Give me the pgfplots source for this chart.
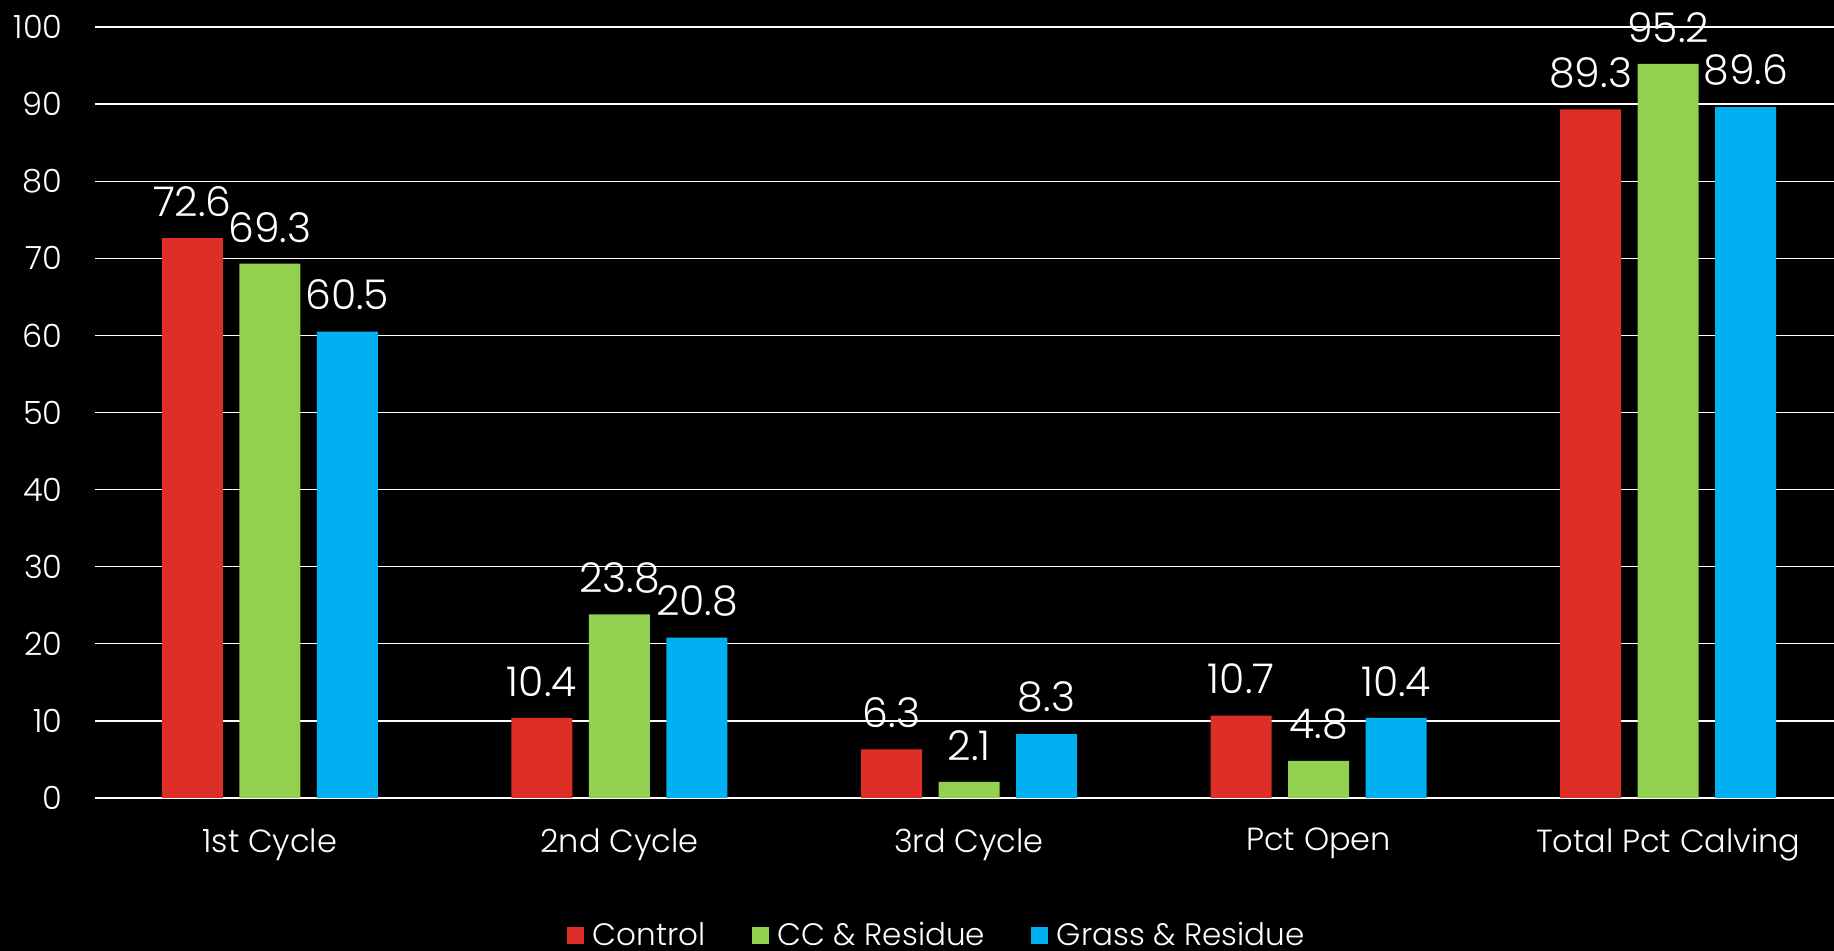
\documentclass[border=0pt]{standalone}
\usepackage{fontspec}
\setmainfont{Poppins}[UprightFont={* Light}]
\usepackage{pgfplots}
\pgfplotsset{compat=1.18}
\definecolor{cred}{HTML}{DE2E28}
\definecolor{cgreen}{HTML}{92D050}
\definecolor{cblue}{HTML}{00B0F0}
\begin{document}
\begin{tikzpicture}
\path[fill=black, use as bounding box] (-47.5pt,-76.5pt) rectangle (869.5pt,399pt);
\begin{axis}[
  at={(0pt,0pt)}, anchor=south west,
  scale only axis, width=874pt, height=385.5pt,
  ymin=0, ymax=100, xmin=-0.5, xmax=4.5,
  clip=false,
  ybar=8.25pt, bar width=30.5pt,
  ytick={0,10,...,100},
  xtick={0,1,2,3,4},
  xticklabels={1st Cycle, 2nd Cycle, 3rd Cycle, Pct Open, Total Pct Calving},
  /pgf/number format/assume math mode=true,
  axis line style={draw=none},
  tick style={draw=none},
  ymajorgrids,
  major grid style={white, line width=0.65pt},
  yticklabel style={font=\fontsize{16}{19}\selectfont, text=white, anchor=east, inner sep=0pt, xshift=-16pt},
  xticklabel style={font=\fontsize{16}{19}\selectfont, text=white, anchor=north, inner sep=0pt, yshift=-10.7pt},
  nodes near coords={\pgfmathprintnumber[fixed,precision=1]{\pgfplotspointmeta}},
  every node near coord/.append style={font=\fontsize{20.5}{23}\selectfont, text=white, anchor=south, inner sep=0pt, yshift=10.5pt},
  legend style={draw=none, fill=none, text=white, font=\fontsize{15.5}{18}\selectfont,
    inner sep=0pt, outer sep=0pt,
    at={(0.27,-0.178)}, anchor=west, legend columns=-1,
    nodes={inner sep=0pt},
    column sep=0pt,
    /tikz/every odd column/.append style={column sep=4.5pt},
    /tikz/every even column/.append style={column sep=23pt}},
  legend image code/.code={\fill[#1] (0pt,-4.25pt) rectangle (8.5pt,4.25pt);},
]
\addplot[fill=cred, draw=none] coordinates {(0,72.6) (1,10.4) (2,6.3) (3,10.7) (4,89.3)};
\addlegendentry{Control}
\addplot[fill=cgreen, draw=none] coordinates {(0,69.3) (1,23.8) (2,2.1) (3,4.8) (4,95.2)};
\addlegendentry{CC \& Residue}
\addplot[fill=cblue, draw=none] coordinates {(0,60.5) (1,20.8) (2,8.3) (3,10.4) (4,89.6)};
\addlegendentry{Grass \& Residue}
\end{axis}
\end{tikzpicture}
\end{document}
